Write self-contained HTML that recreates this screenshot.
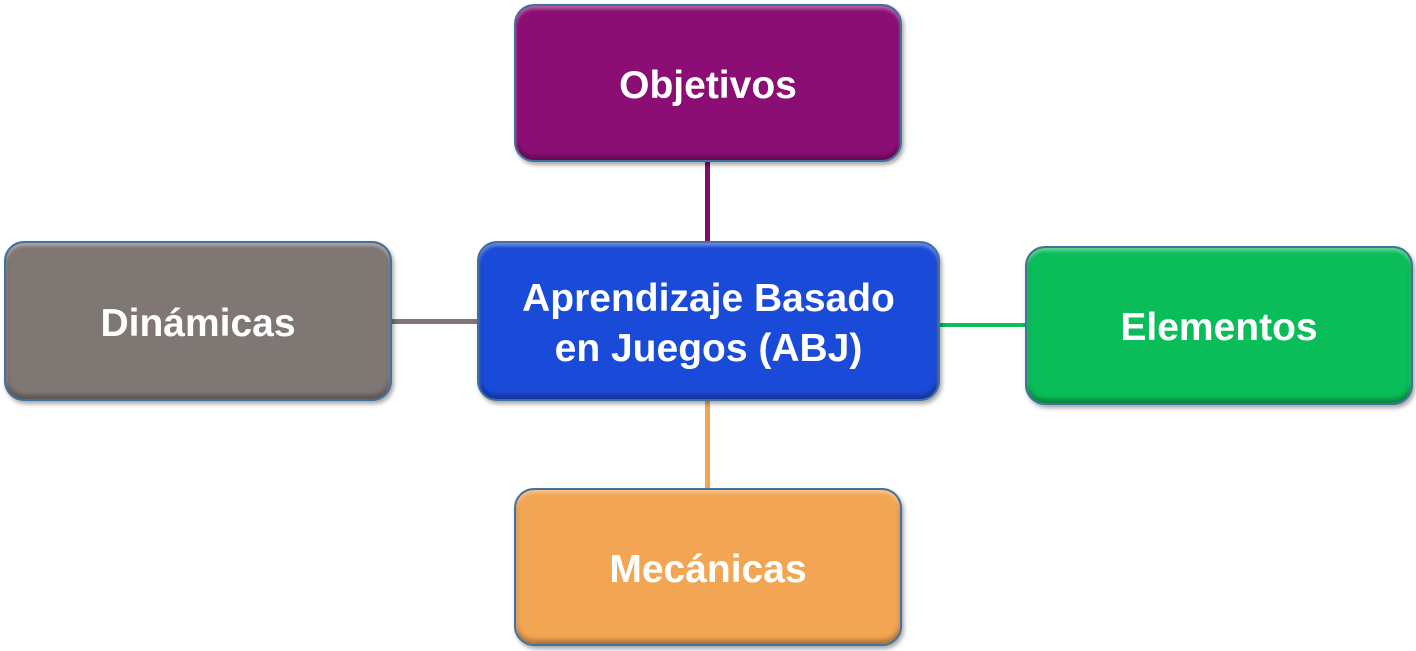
<!DOCTYPE html>
<html><head><style>
body{margin:0;width:1416px;height:651px;background:#fff;position:relative;overflow:hidden;font-family:"Liberation Sans",sans-serif;}
.b{position:absolute;box-sizing:border-box;border:2px solid #41719C;border-radius:20px;display:flex;align-items:center;justify-content:center;text-align:center;color:#fff;font-weight:bold;font-size:39px;line-height:50px;padding-top:5px;box-shadow:inset 0 3px 3px rgba(255,255,255,.35),inset 0 -4px 5px rgba(0,0,0,.3),2px 3px 4px rgba(0,0,0,.35);}
.l{position:absolute;}
</style></head><body>
<div class="l" style="left:705px;top:160px;width:5px;height:84px;background:#800E6E"></div>
<div class="l" style="left:390px;top:319px;width:90px;height:5px;background:#7F7774"></div>
<div class="l" style="left:938px;top:323px;width:90px;height:4px;background:#0ABD58"></div>
<div class="l" style="left:705px;top:399px;width:5px;height:92px;background:#F2A553"></div>
<div class="b" style="left:514px;top:4px;width:388px;height:158px;background:#8B0E74">Objetivos</div>
<div class="b" style="left:477px;top:241px;width:463px;height:160px;background:#1A4AD8">Aprendizaje Basado<br>en Juegos (ABJ)</div>
<div class="b" style="left:4px;top:241px;width:388px;height:160px;background:#7F7774">Dinámicas</div>
<div class="b" style="left:1025px;top:246px;width:388px;height:159px;background:#0ABD58">Elementos</div>
<div class="b" style="left:514px;top:488px;width:388px;height:158px;background:#F2A553">Mecánicas</div>
</body></html>
